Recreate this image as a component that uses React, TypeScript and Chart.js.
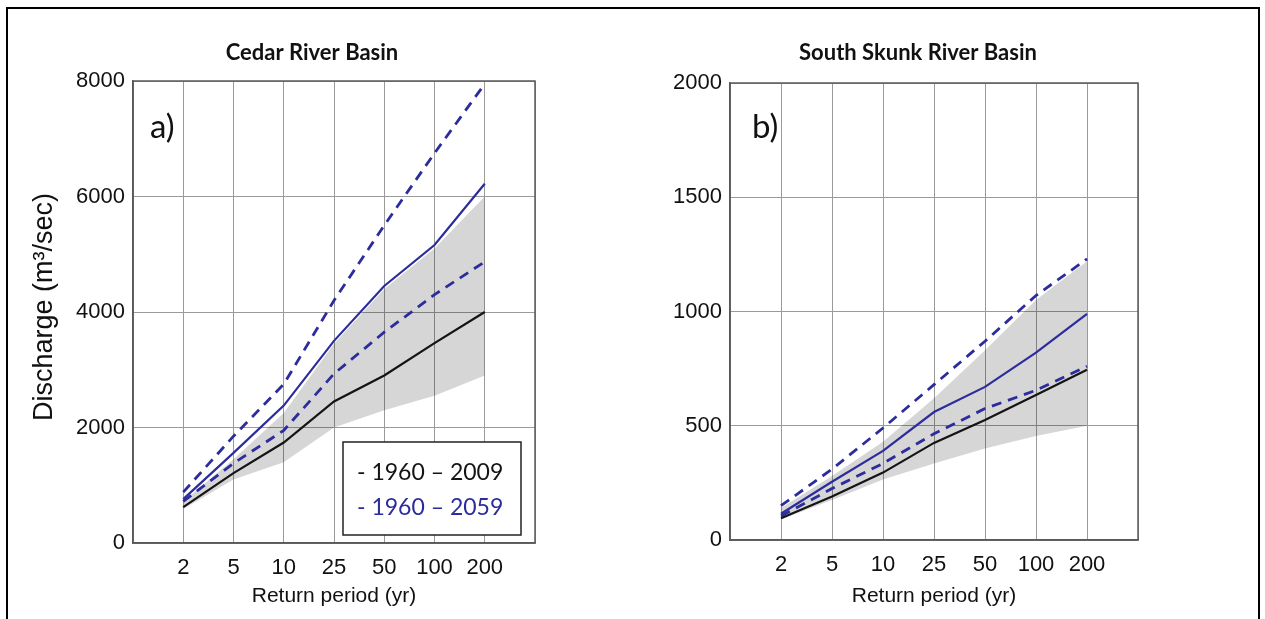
import React, { useEffect, useRef } from 'react';
import { Chart, registerables } from 'chart.js';

Chart.register(...registerables);

// ---------- data ----------
const returnPeriods = ['2', '5', '10', '25', '50', '100', '200'];

// Cedar River Basin (m3/sec)
const cedarObserved = [620, 1210, 1740, 2450, 2900, 3460, 4000];
const cedarFutureMedian = [760, 1560, 2380, 3500, 4450, 5160, 6220];
const cedarFutureUpper = [880, 1850, 2750, 4200, 5500, 6750, 7950];
const cedarFutureLower = [720, 1380, 1950, 2930, 3650, 4300, 4870];
const cedarBandUpper = [720, 1450, 2250, 3450, 4400, 5100, 6000];
const cedarBandLower = [590, 1100, 1400, 2000, 2300, 2550, 2900];

// South Skunk River Basin (m3/sec)
const skunkObserved = [95, 190, 295, 425, 525, 635, 745];
const skunkFutureMedian = [115, 255, 390, 560, 670, 820, 990];
const skunkFutureUpper = [150, 310, 490, 680, 870, 1070, 1230];
const skunkFutureLower = [105, 225, 335, 465, 575, 655, 760];
const skunkBandUpper = [140, 280, 430, 620, 830, 1050, 1220];
const skunkBandLower = [90, 175, 265, 335, 400, 455, 500];

const legendLabels = ['- 1960 \u2013 2009', '- 1960 \u2013 2059'];

// ---------- styling ----------
const BLUE = '#2c2c9c';
const BLACK = '#141414';
const GRID = '#9a9a9a';
const FRAME = '#5a5a5a';
const SANS = '"Liberation Sans", Arial, sans-serif';
const TITLE_FONT = 'Lato, "Open Sans", sans-serif';

type Panel = {
  title: string;
  tag: string;
  yMax: number;
  yStep: number;
  observed: number[];
  median: number[];
  upper: number[];
  lower: number[];
  bandUpper: number[];
  bandLower: number[];
  left: number;
  width: number;
  area: { left: number; right: number; top: number; bottom: number };
  titleX: number;
  tagX: number;
  yTitle: boolean;
  legend: boolean;
};

const panels: Panel[] = [
  {
    title: 'Cedar River Basin',
    tag: 'a)',
    yMax: 8000,
    yStep: 2000,
    observed: cedarObserved,
    median: cedarFutureMedian,
    upper: cedarFutureUpper,
    lower: cedarFutureLower,
    bandUpper: cedarBandUpper,
    bandLower: cedarBandLower,
    left: 0,
    width: 640,
    area: { left: 133, right: 535, top: 81, bottom: 543 },
    titleX: 312,
    tagX: 150,
    yTitle: true,
    legend: true,
  },
  {
    title: 'South Skunk River Basin',
    tag: 'b)',
    yMax: 2000,
    yStep: 500,
    observed: skunkObserved,
    median: skunkFutureMedian,
    upper: skunkFutureUpper,
    lower: skunkFutureLower,
    bandUpper: skunkBandUpper,
    bandLower: skunkBandLower,
    left: 640,
    width: 625,
    area: { left: 90, right: 498, top: 83, bottom: 540 },
    titleX: 278,
    tagX: 112,
    yTitle: false,
    legend: false,
  },
];

const HEIGHT = 619;

const toPoints = (vals: number[]) => vals.map((y, i) => ({ x: i + 1, y }));

function PanelChart({ p }: { p: Panel }) {
  const ref = useRef<HTMLCanvasElement | null>(null);

  useEffect(() => {
    if (!ref.current) return;
    const overlay = {
      id: 'overlay',
      afterDraw(chart: any) {
        const ctx = chart.ctx as CanvasRenderingContext2D;
        const a = chart.chartArea;
        ctx.save();
        // plot frame
        ctx.strokeStyle = FRAME;
        ctx.lineWidth = 1.5;
        ctx.strokeRect(a.left, a.top, a.right - a.left, a.bottom - a.top);

        // title
        ctx.fillStyle = '#111';
        ctx.font = `bold 22px ${TITLE_FONT}`;
        ctx.textAlign = 'center';
        ctx.textBaseline = 'middle';
        ctx.fillText(p.title, p.titleX, 53);

        // panel tag
        ctx.font = `33px ${TITLE_FONT}`;
        ctx.textAlign = 'left';
        ctx.fillText(p.tag, p.tagX, 127);

        // x title
        ctx.font = `21px ${SANS}`;
        ctx.textAlign = 'center';
        ctx.fillStyle = '#111';
        ctx.fillText('Return period (yr)', (a.left + a.right) / 2, 596);

        // y title
        if (p.yTitle) {
          ctx.save();
          ctx.translate(45, 307);
          ctx.rotate(-Math.PI / 2);
          ctx.font = `27px ${SANS}`;
          ctx.fillText('Discharge (m\u00B3/sec)', 0, 0);
          ctx.restore();
        }

        // legend
        if (p.legend) {
          const lx = 343, ly = 442, lw = 178, lh = 93;
          ctx.fillStyle = '#ffffff';
          ctx.fillRect(lx, ly, lw, lh);
          ctx.strokeStyle = '#222';
          ctx.lineWidth = 1.5;
          ctx.strokeRect(lx, ly, lw, lh);
          ctx.font = `23px ${TITLE_FONT}`;
          ctx.textAlign = 'left';
          ctx.textBaseline = 'middle';
          ctx.fillStyle = BLACK;
          ctx.fillText(legendLabels[0], 357, 473);
          ctx.fillStyle = BLUE;
          ctx.fillText(legendLabels[1], 357, 508);
        }
        ctx.restore();
      },
    };

    const chart = new Chart(ref.current, {
      type: 'line',
      data: {
        datasets: [
          {
            label: 'observed',
            data: toPoints(p.observed),
            borderColor: BLACK,
            borderWidth: 2.2,
            pointRadius: 0,
            fill: false,
          },
          {
            label: 'median',
            data: toPoints(p.median),
            borderColor: BLUE,
            borderWidth: 2.2,
            pointRadius: 0,
            fill: false,
          },
          {
            label: 'upper',
            data: toPoints(p.upper),
            borderColor: BLUE,
            borderWidth: 2.8,
            borderDash: [10, 7],
            pointRadius: 0,
            fill: false,
          },
          {
            label: 'lower',
            data: toPoints(p.lower),
            borderColor: BLUE,
            borderWidth: 2.8,
            borderDash: [10, 7],
            pointRadius: 0,
            fill: false,
          },
          {
            label: 'bandLower',
            data: toPoints(p.bandLower),
            borderWidth: 0,
            borderColor: 'rgba(0,0,0,0)',
            pointRadius: 0,
            fill: false,
          },
          {
            label: 'bandUpper',
            data: toPoints(p.bandUpper),
            borderWidth: 0,
            borderColor: 'rgba(0,0,0,0)',
            backgroundColor: 'rgba(0,0,0,0.16)',
            pointRadius: 0,
            fill: '-1',
          },
        ],
      },
      options: {
        responsive: false,
        animation: false,
        events: [],
        layout: {
          padding: {
            top: p.area.top,
            right: p.width - p.area.right,
            left: 0,
            bottom: 0,
          },
        },
        plugins: {
          legend: { display: false },
          tooltip: { enabled: false },
          title: { display: false },
        },
        scales: {
          x: {
            type: 'linear',
            min: 0,
            max: returnPeriods.length + 1,
            afterFit: (s: any) => {
              s.height = HEIGHT - p.area.bottom;
            },
            grid: { color: GRID, lineWidth: 1, drawTicks: false },
            border: { color: FRAME, width: 1.5 },
            ticks: {
              stepSize: 1,
              autoSkip: false,
              maxRotation: 0,
              padding: 12,
              color: '#111',
              font: { family: SANS, size: 22 },
              callback: (v: any) => {
                const i = Math.round(Number(v)) - 1;
                return returnPeriods[i] ?? '';
              },
            },
          },
          y: {
            type: 'linear',
            min: 0,
            max: p.yMax,
            afterFit: (s: any) => {
              s.width = p.area.left;
            },
            grid: { color: GRID, lineWidth: 1, drawTicks: false },
            border: { color: FRAME, width: 1.5 },
            ticks: {
              stepSize: p.yStep,
              padding: 8,
              color: '#111',
              font: { family: SANS, size: 22 },
              callback: (v: any) => String(v),
            },
          },
        },
      },
      plugins: [overlay],
    } as any);

    return () => chart.destroy();
  }, [p]);

  return (
    <canvas
      ref={ref}
      width={p.width}
      height={HEIGHT}
      style={{ position: 'absolute', left: p.left, top: 0, width: p.width, height: HEIGHT }}
    />
  );
}

export default function App() {
  return (
    <div
      style={{
        position: 'absolute',
        left: 0,
        top: 0,
        width: 1265,
        height: HEIGHT,
        overflow: 'hidden',
        background: '#ffffff',
      }}
    >
      {panels.map((p) => (
        <PanelChart key={p.title} p={p} />
      ))}
      <div
        style={{
          position: 'absolute',
          left: 6,
          top: 7,
          width: 1254,
          height: 700,
          border: '2px solid #000',
          boxSizing: 'border-box',
          pointerEvents: 'none',
        }}
      />
    </div>
  );
}
